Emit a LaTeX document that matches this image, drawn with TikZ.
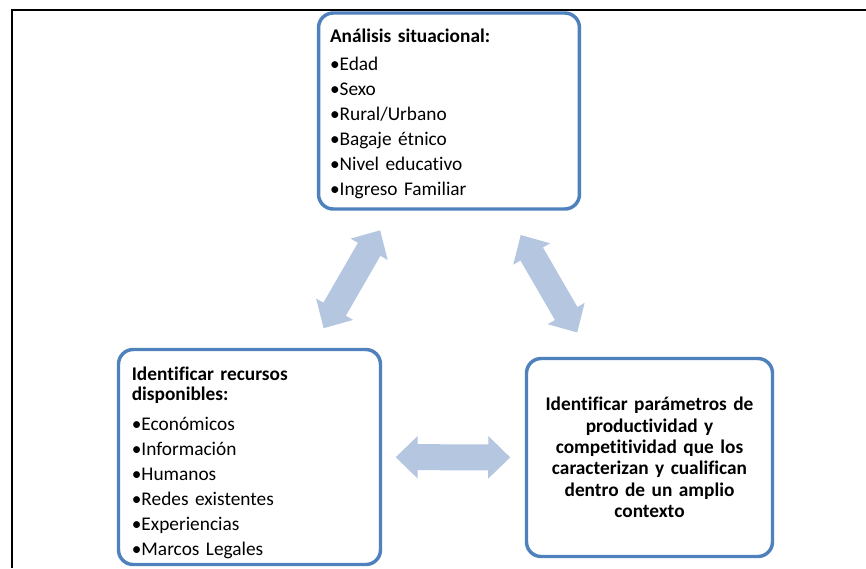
\documentclass[tikz,border=0pt]{standalone}
\usepackage{fontspec}
\setmainfont{Carlito}[Ligatures=NoCommon]
\usepackage{tikz}
\usetikzlibrary{arrows.meta, positioning}
\definecolor{boxblue}{HTML}{4F81BD}
\definecolor{arrowblue}{HTML}{B4C6E0}

\begin{document}
\begin{tikzpicture}[x=0.75pt, y=-0.75pt,
    listbox/.style={rectangle, rounded corners=11pt, draw=boxblue, line width=2.6pt,
                    fill=white, align=left, minimum height=147pt},
    goalbox/.style={rectangle, rounded corners=11pt, draw=boxblue, line width=2.6pt,
                    fill=white, align=center, inner xsep=7pt, text width=170.5pt,
                    minimum height=148.5pt, font=\fontsize{14.5}{16.1}\selectfont\bfseries},
    link/.style={arrowblue, line width=19.5pt,
                 {Triangle[width=31pt,length=16.5pt]}-{Triangle[width=31pt,length=16.5pt]}}]

    \useasboundingbox (0,0) rectangle (866,568);

    % frame
    \draw[line width=1.5pt] (866,10) -- (12,10) -- (12,568);

    % Analisis situacional (top)
    \node[listbox, inner xsep=8.6pt, text width=178.5pt,
          font=\fontsize{14.5}{18.75}\selectfont] (analysis) at (449,111) {%
        \rule{0pt}{14.6pt}\textbf{Análisis situacional:}\\[2.25pt]
        \textbullet Edad\\
        \textbullet Sexo\\
        \textbullet Rural/Urbano\\
        \textbullet Bagaje étnico\\
        \textbullet Nivel educativo\\
        \textbullet Ingreso Familiar};

    % Recursos disponibles (left)
    \node[listbox, inner xsep=10pt, text width=176.5pt, minimum height=161.25pt,
          font=\fontsize{14.5}{15}\selectfont] (resources) at (249.5,457) {%
        \rule{0pt}{18.5pt}\textbf{Identificar recursos}\\
        \textbf{disponibles:}\\[7.5pt]
        \textbullet Económicos\\[3.75pt]
        \textbullet Información\\[3.75pt]
        \textbullet Humanos\\[3.75pt]
        \textbullet Redes existentes\\[3.75pt]
        \textbullet Experiencias\\[3.75pt]
        \textbullet Marcos Legales};

    % Parametros (right)
    \node[goalbox] (params) at (649.5,457.5) {Identificar parámetros de\\
        productividad y\\ competitividad que los\\ caracterizan y cualifican\\
        dentro de un amplio\\ contexto};

    % Connections
    \draw[link, shorten <=16.9pt, shorten >=16.9pt] (analysis) -- (resources);
    \draw[link, shorten <=21pt, shorten >=21pt] (analysis) -- (params);
    \draw[link, shorten <=10.1pt, shorten >=10.9pt] (resources) -- (params);

\end{tikzpicture}
\end{document}
